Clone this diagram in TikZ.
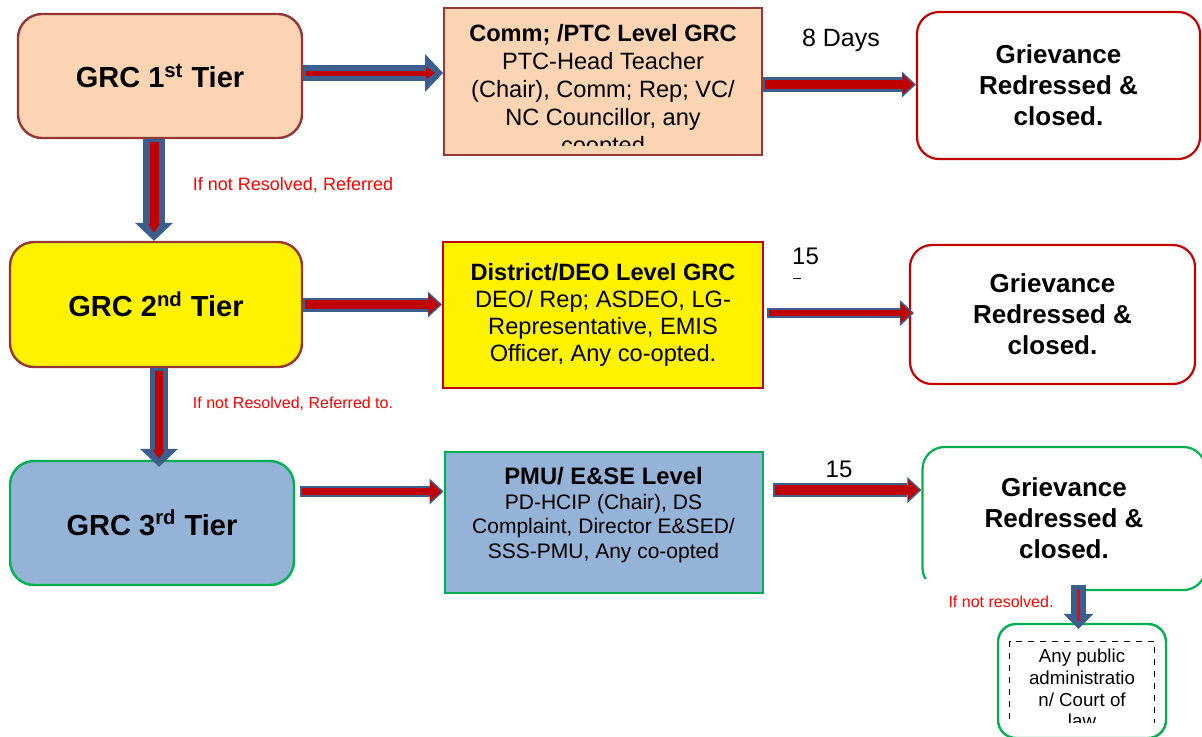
\documentclass[tikz,border=0pt]{standalone}
\usepackage{fontspec}
\setmainfont{Liberation Sans}
\usetikzlibrary{arrows.meta}

\definecolor{peach}{HTML}{FBD4B4}
\definecolor{tierline}{HTML}{953735}
\definecolor{boxred}{HTML}{C00000}
\definecolor{tierblue}{HTML}{95B3D7}
\definecolor{tiergreen}{HTML}{00B050}
\definecolor{arrowblue}{HTML}{3C5E8C}
\definecolor{arrowred}{HTML}{C00000}
\definecolor{notered}{HTML}{FF0000}

\begin{document}
\begin{tikzpicture}[
x=0.5pt, y=-0.5pt,
tier/.style={
draw=tierline,
line width=1.2pt,
rounded corners=12pt,
minimum width=142pt,
minimum height=62pt,
font=\fontsize{14.5}{17}\selectfont\bfseries
},
level/.style={
draw,
line width=1pt,
minimum width=159pt,
minimum height=73pt,
align=center,
font=\fontsize{11.8}{13.6}\selectfont
},
leveltext/.style={align=center, inner sep=0pt, font=\fontsize{11.8}{14}\selectfont},
result/.style={
draw=#1,
fill=white,
line width=1.1pt,
rounded corners=11pt,
minimum width=141.5pt,
minimum height=73.5pt,
align=center,
font=\fontsize{13}{15.5}\selectfont\bfseries
},
note/.style={text=notered, inner sep=0pt, font=\fontsize{#1}{#1}\selectfont},
days/.style={inner sep=0pt, font=\fontsize{12.5}{14}\selectfont},
tierarrow/.style 2 args={
draw=arrowred, line width=#2, shorten <=1.5pt, shorten >=4pt,
-{Triangle[length=4.5pt, width=6pt, line width=0pt]},
preaction={draw=arrowblue, line width=#1, shorten <=0pt, shorten >=0pt,
-{Triangle[length=9pt, width=19pt, line width=0pt]}}
},
dayarrow/.style 2 args={
draw=arrowred, line width=#2, shorten <=1pt, shorten >=1.2pt,
-{Triangle[length=5.5pt, width=10pt, line width=0pt]},
preaction={draw=arrowblue, line width=#1, shorten <=0pt, shorten >=0pt,
-{Triangle[length=7pt, width=13pt, line width=0pt]}}
},
courtarrow/.style={
draw=notered, line width=1.5pt, shorten <=2pt, shorten >=4pt, -,
preaction={draw=arrowblue, line width=7.5pt, shorten <=0pt, shorten >=0pt,
-{Triangle[length=7.5pt, width=15pt, line width=0pt]}}
}
]
\useasboundingbox[fill=white] (0,0) rectangle (1202,736);

% ------------------------
% GRC tiers (left)
% ------------------------
\node[tier, fill=peach] (tier1) at (160,76) {GRC 1\textsuperscript{st} Tier};
\node[tier, fill=yellow, minimum width=146pt, minimum height=62.5pt] (tier2) at (156,304.5) {GRC 2\textsuperscript{nd} Tier};
\node[tier, draw=tiergreen, fill=tierblue] (tier3) at (152,523) {GRC 3\textsuperscript{rd} Tier};

% ------------------------
% Level committees (middle)
% ------------------------
\node[level, draw=tierline, fill=peach, minimum height=73.5pt] (comm) at (603,81.5) {};
\begin{scope}
\clip (comm.north west) rectangle ([yshift=5.5pt]comm.south east);
\node[leveltext, anchor=north] (commtext) at ([yshift=-8.5pt]comm.north)
{\textbf{Comm; /PTC Level GRC}\\PTC-Head Teacher\\(Chair), Comm; Rep; VC/\\NC Councillor, any\\coopted};
\end{scope}

\node[level, draw=boxred, fill=yellow, minimum width=160pt] (district) at (603,315)
{\textbf{District/DEO Level GRC}\\DEO/ Rep; ASDEO, LG-\\Representative, EMIS\\Officer, Any co-opted.};

\node[level, draw=tiergreen, fill=tierblue, minimum height=70.5pt] (pmu) at (603.5,522) {};
\node[leveltext, font=\fontsize{10.5}{12.3}\selectfont] (pmutext) at ([yshift=3.5pt]pmu.center)
{{\fontsize{11.9}{12.5}\selectfont\bfseries PMU/ E\&SE Level}\\PD-HCIP (Chair), DS\\Complaint, Director E\&SED/\\SSS-PMU, Any co-opted};

% ------------------------
% Outcomes (right)
% ------------------------
\node[result=boxred] (done1) at (1058.5,85.5) {Grievance\\Redressed \&\\closed.};
\node[result=boxred, minimum width=142.5pt, minimum height=69.5pt] (done2) at (1052.5,314.5) {Grievance\\Redressed \&\\closed.};
\node[result=tiergreen, minimum height=71.5pt] (done3) at (1064,518.5) {Grievance\\Redressed \&\\closed.};
\fill[white] (920,579) rectangle (1080,597);

\node[draw=tiergreen, line width=1.2pt, rounded corners=9pt,
minimum width=84pt, minimum height=57pt] (court) at (1082,681) {};
\begin{scope}
\clip (court.north west) rectangle ([yshift=8.5pt]court.south east);
\node[draw, dashed, line width=0.5pt, minimum width=72.5pt, inner sep=4pt,
align=center, anchor=north, font=\fontsize{9.35}{10.8}\selectfont] (courttext)
at ([yshift=-9pt]court.north) {Any public\\administratio\\n/ Court of\\law};
\end{scope}

% ------------------------
% Arrows
% ------------------------
\draw[tierarrow={8pt}{2.5pt}] ([yshift=1.5pt]tier1.east) -- ([yshift=1.5pt]tier1.east -| comm.west);
\draw[dayarrow={7pt}{4.5pt}] (tier2.east) -- (tier2.east -| district.west);
\draw[dayarrow={5.5pt}{3.5pt}] ([xshift=2.5pt, yshift=15.75pt]tier3.east) -- ([yshift=15.75pt]tier3.east -| pmu.west);

\draw[dayarrow={7.5pt}{4.5pt}] ([yshift=-1.5pt]comm.east) -- ([yshift=-1.5pt]comm.east -| done1.west);
\draw[dayarrow={5pt}{3pt}] ([xshift=1.5pt, yshift=1pt]district.east) -- ([xshift=2.5pt, yshift=1pt]district.east -| done2.west);
\draw[dayarrow={7pt}{5pt}] ([xshift=4.5pt, yshift=16pt]pmu.east) -- ([yshift=16pt]pmu.east -| done3.west);

% Referrals down the tiers
\draw[tierarrow={11pt}{4.5pt}] ([xshift=-3pt]tier1.south) -- ([xshift=-3pt]tier1.south |- tier2.north);
\draw[tierarrow={9pt}{4pt}] ([xshift=1.5pt]tier2.south) -- ([xshift=1.5pt, yshift=-3.5pt]tier2.south |- tier3.north);
\draw[courtarrow] ([xshift=7.25pt, yshift=3pt]done3.south) -- ([xshift=7.25pt, yshift=-3pt]done3.south |- court.north);

% ------------------------
% Labels
% ------------------------
\node[note=9] (refer1) at (293,185) {If not Resolved, Referred};
\node[note=8] (refer2) at (293,404) {If not Resolved, Referred to.};
\node[note=8] (refer3) at (1001,602) {If not resolved.};

\node[days] (days1) at (841,40) {8 Days};
\node[days, font=\fontsize{12}{14}\selectfont] (days2) at (805.5,256) {15};
\draw[line width=0.5pt] (793,278) -- (801,278);
\node[days, font=\fontsize{12}{14}\selectfont] (days3) at (839,469) {15};

\end{tikzpicture}
\end{document}
